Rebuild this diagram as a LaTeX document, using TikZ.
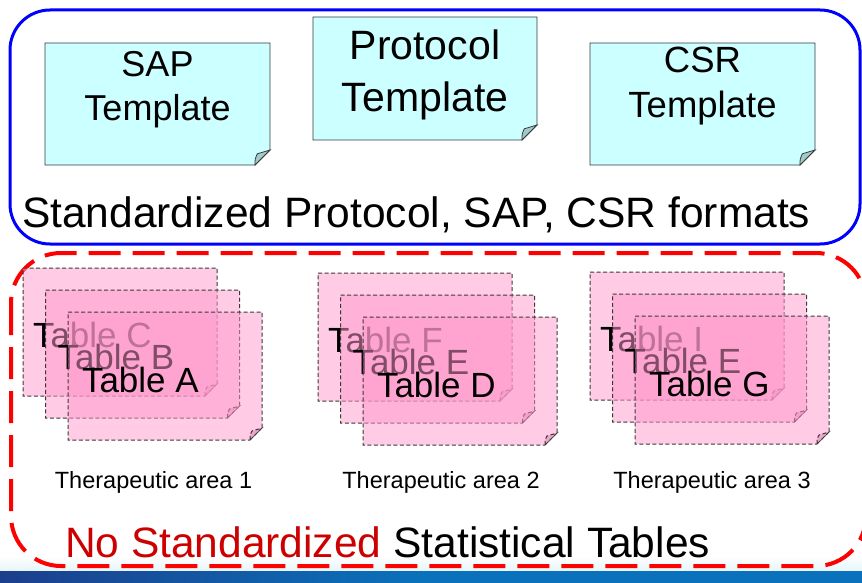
\documentclass[tikz,border=0pt]{standalone}
\usepackage{fontspec}
\setmainfont{Liberation Sans}
\definecolor{tplfill}{HTML}{CCFFFF}
\definecolor{tplfold}{HTML}{A3CACA}
\definecolor{tblfill}{HTML}{FF99CC}
\definecolor{tblfold}{HTML}{E27FB4}
\definecolor{redtxt}{HTML}{CC0000}
\definecolor{edgegray}{HTML}{3A3A3A}
\definecolor{banddark}{HTML}{1C3F8C}
\definecolor{bandlight}{HTML}{0A72BC}
\definecolor{bandhaze}{HTML}{E6F5F8}
\tikzset{
  tpl/.style={fill=tplfill,draw=edgegray,line width=0.8pt},
  tbl/.style={fill=tblfill,fill opacity=0.5,draw=edgegray,draw opacity=1,line width=1pt,dash pattern=on 4pt off 2.5pt},
  lbl/.style={inner sep=0pt,outer sep=0pt,text=black},
  tbltext/.style={lbl,anchor=base west,font=\fontsize{35}{40}\selectfont},
}
\newcommand\tablegroup[6]{%
  \begin{scope}[shift={(#1,#2)}]
    \path[tbl] (0,0) -- (194,0) -- (194,116) -- (182,128) -- (0,128) -- cycle;
    \path[tbl,fill=tblfold] (182,128) .. controls (182,123) .. (184,119) -- (194,116) -- cycle;
    \node[tbltext] (#3c) at (10,79) {Table #4};
    \path[tbl] (22.5,22) -- (216.5,22) -- (216.5,138) -- (204.5,150) -- (22.5,150) -- cycle;
    \path[tbl,fill=tblfold] (204.5,150) .. controls (204.5,145) .. (206.5,141) -- (216.5,138) -- cycle;
    \node[tbltext] (#3b) at (34.5,101.5) {Table #5};
    \path[tbl] (45,44) -- (239,44) -- (239,160) -- (227,172) -- (45,172) -- cycle;
    \path[tbl,fill=tblfold] (227,172) .. controls (227,167) .. (229,163) -- (239,160) -- cycle;
    \node[tbltext] (#3a) at (59,124) {Table #6};
  \end{scope}
}
\begin{document}
\begin{tikzpicture}[x=1pt,y=-1pt]
\useasboundingbox (0,0) rectangle (862,583);
\fill[white] (0,0) rectangle (862,583);
% bottom band
\shade[top color=white,bottom color=bandhaze] (0,556) rectangle (862,571);
\shade[left color=banddark,right color=bandlight] (0,571) rectangle (430,583);
\fill[bandlight] (430,571) rectangle (862,583);
% standardized box
\draw[blue,line width=3pt,rounded corners=40pt] (10,10) rectangle (860,244);
% templates
\path[tpl] (45,43) -- (270,43) -- (270,150) -- (255,165) -- (45,165) -- cycle;
\path[tpl,fill=tplfold] (255,165) .. controls (255,159) .. (257.3,153.8) -- (270,150) -- cycle;
\node[lbl,anchor=base,font=\fontsize{36}{40}\selectfont] (sap1) at (157.5,77) {SAP};
\node[lbl,anchor=base,font=\fontsize{36}{40}\selectfont] (sap2) at (157.5,121) {Template};
\path[tpl] (313,17) -- (537,17) -- (537,125) -- (522,140) -- (313,140) -- cycle;
\path[tpl,fill=tplfold] (522,140) .. controls (522,134) .. (524.3,128.8) -- (537,125) -- cycle;
\node[lbl,anchor=base,font=\fontsize{41}{46}\selectfont] (prot1) at (425,60) {Protocol};
\node[lbl,anchor=base,font=\fontsize{41}{46}\selectfont] (prot2) at (425,112) {Template};
\path[tpl] (590,43) -- (815,43) -- (815,150) -- (800,165) -- (590,165) -- cycle;
\path[tpl,fill=tplfold] (800,165) .. controls (800,159) .. (802.3,153.8) -- (815,150) -- cycle;
\node[lbl,anchor=base,font=\fontsize{36.5}{40}\selectfont] (csr1) at (702.5,73) {CSR};
\node[lbl,anchor=base,font=\fontsize{36.5}{40}\selectfont] (csr2) at (702.5,118) {Template};
\node[lbl,anchor=base west,font=\fontsize{42.5}{48}\selectfont] (stdtitle) at (22,227) {Standardized Protocol, SAP, CSR formats};
% non-standard box
\draw[red,line width=4pt,rounded corners=50pt,dash pattern=on 32pt off 12pt] (11,253) rectangle (866,566);
\tablegroup{23}{268}{ga}{C}{B}{A}
\tablegroup{318}{273}{gb}{F}{E}{D}
\tablegroup{590}{272}{gc}{I}{E}{G}
\node[lbl,anchor=base,font=\fontsize{23.5}{28}\selectfont] (ta1) at (153.5,488) {Therapeutic area 1};
\node[lbl,anchor=base,font=\fontsize{23.5}{28}\selectfont] (ta2) at (441,488) {Therapeutic area 2};
\node[lbl,anchor=base,font=\fontsize{23.5}{28}\selectfont] (ta3) at (712,488) {Therapeutic area 3};
\node[lbl,anchor=base west,font=\fontsize{42.5}{48}\selectfont] (nostd) at (65,557) {\textcolor{redtxt}{No Standardized} Statistical Tables};
\end{tikzpicture}
\end{document}
